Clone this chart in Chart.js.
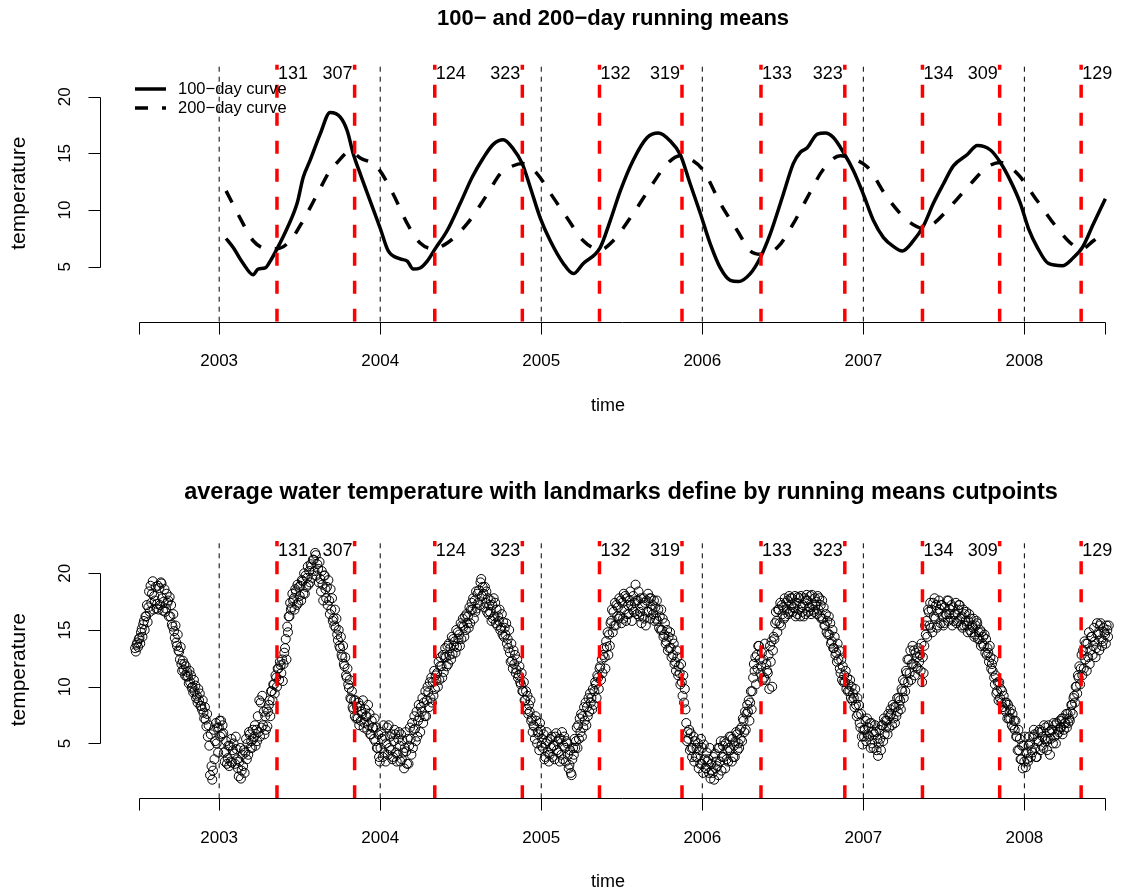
<!DOCTYPE html>
<html>
<head>
<meta charset="utf-8">
<title>Water temperature running means</title>
<script src="https://cdn.jsdelivr.net/npm/chart.js@4"></script>
<style>
  html, body { margin: 0; padding: 0; background: #fff; }
  .panel { position: absolute; left: 0; width: 1121px; height: 447px; }
  #topPanel { top: 0; }
  #bottomPanel { top: 447px; }
</style>
</head>
<body>
<div class="panel" id="topPanel"><canvas id="meansChart" width="1121" height="447"></canvas></div>
<div class="panel" id="bottomPanel"><canvas id="obsChart" width="1121" height="447"></canvas></div>
<script>
// ---- data -------------------------------------------------------------

// 100-day running mean (decimal year, degC)
const mean100Time = [
  2003.043, 2003.087, 2003.149, 2003.211, 2003.242, 2003.286, 2003.317, 2003.360, 2003.422, 2003.484,
  2003.522, 2003.565, 2003.627, 2003.689, 2003.752, 2003.795, 2003.832, 2003.876, 2003.938,
  2004.000, 2004.050, 2004.124, 2004.168, 2004.205, 2004.248, 2004.292, 2004.342, 2004.416, 2004.497,
  2004.571, 2004.640, 2004.702, 2004.764, 2004.826, 2004.882, 2004.932, 2004.994,
  2005.056, 2005.137, 2005.199, 2005.261, 2005.366, 2005.429, 2005.491, 2005.571, 2005.658, 2005.727,
  2005.801, 2005.863, 2005.925, 2005.988,
  2006.050, 2006.112, 2006.174, 2006.224, 2006.298, 2006.360, 2006.422, 2006.503, 2006.565, 2006.609,
  2006.652, 2006.714, 2006.764, 2006.814, 2006.876, 2006.938,
  2007.000, 2007.062, 2007.124, 2007.186, 2007.242, 2007.311, 2007.373, 2007.435, 2007.497, 2007.559,
  2007.646, 2007.708, 2007.789, 2007.851, 2007.913, 2007.975,
  2008.025, 2008.081, 2008.149, 2008.236, 2008.304, 2008.360, 2008.429, 2008.503
];
const mean100Temp = [
  7.5, 6.7, 5.3, 4.3, 4.8, 4.9, 5.5, 6.6, 8.4, 10.6, 12.9, 14.4, 16.7, 18.6, 18.2, 17.0, 15.0, 13.2, 10.8,
  8.4, 6.4, 5.7, 5.5, 4.8, 4.9, 5.5, 6.6, 8.2, 10.6, 12.9, 14.6, 15.8, 16.2, 15.4, 14.1, 12.0, 9.3,
  7.3, 5.3, 4.4, 5.3, 6.7, 9.1, 11.7, 14.4, 16.4, 16.8, 16.1, 14.9, 12.3, 9.7,
  7.0, 4.9, 3.8, 3.7, 4.4, 5.8, 7.9, 11.4, 14.1, 15.1, 15.5, 16.7, 16.8, 16.4, 15.1, 13.5,
  11.4, 9.1, 7.6, 6.8, 6.4, 7.3, 8.6, 10.6, 12.3, 13.9, 14.9, 15.7, 15.3, 14.2, 12.6, 10.6,
  8.4, 6.7, 5.3, 5.1, 5.8, 6.7, 8.8, 11.0
];

// 200-day running mean
const mean200Time = [
  2003.043, 2003.130, 2003.211, 2003.298, 2003.360, 2003.441, 2003.522, 2003.609, 2003.689, 2003.733,
  2003.814, 2003.876, 2003.981,
  2004.081, 2004.168, 2004.248, 2004.329, 2004.416, 2004.540, 2004.665, 2004.745, 2004.807, 2004.888, 2004.975,
  2005.056, 2005.161, 2005.261, 2005.366, 2005.447, 2005.571, 2005.677, 2005.783, 2005.863, 2005.925,
  2006.006, 2006.112, 2006.217, 2006.298, 2006.360, 2006.466, 2006.565, 2006.652, 2006.752, 2006.857, 2006.919,
  2007.025, 2007.149, 2007.273, 2007.373, 2007.435, 2007.559, 2007.665, 2007.770, 2007.851, 2007.957,
  2008.081, 2008.205, 2008.304, 2008.360, 2008.429, 2008.503
];
const mean200Temp = [
  11.7, 9.3, 7.3, 6.6, 6.6, 7.3, 9.1, 11.4, 13.5, 14.2, 15.2, 14.6, 13.8,
  11.4, 8.8, 7.1, 6.6, 7.1, 8.8, 11.4, 13.2, 13.8, 14.1, 13.2,
  11.5, 9.3, 7.3, 6.5, 7.3, 9.7, 12.0, 14.1, 14.8, 14.5,
  13.5, 10.6, 8.2, 6.4, 6.1, 6.7, 8.8, 11.1, 13.6, 14.8, 14.6,
  13.8, 11.1, 9.1, 8.4, 8.8, 10.6, 12.3, 13.8, 14.2, 13.2,
  10.8, 8.4, 6.9, 6.6, 7.3, 8.0
];

// measured water temperature, three readings per 5 days starting at obsStart
const obsStart = 2002.478;
const obsStepDays = 5 / 3;
const obsTemp = [
  13.4,13.1,13.7, 13.9,13.5,14.2, 14.3,13.8,14.8, 15.1,14.4,15.5, 15.8,15.0,16.2, 16.2,17.2,15.7, 17.0,18.4,16.6, 18.9,17.4,18.2, 19.3,16.8,18.0, 17.6,18.8,16.9,
  17.3,18.9,16.8, 18.7,17.2,19.2, 19.1,17.8,16.7, 17.5,18.6,16.6, 16.9,18.2,17.4, 17.6,16.2,17.9, 16.2,17.2,15.5, 15.3,16.4,14.9, 14.3,15.4,13.9, 13.6,14.6,13.2,
  13.1,12.4,13.5, 12.0,11.4,12.3, 11.5,12.0,11.0, 11.8,10.9,11.3, 10.9,10.3,11.4, 10.4,11.0,9.9, 10.0,9.5,10.6, 9.6,10.1,9.0, 9.2,8.6,9.8, 8.8,9.4,8.3,
  8.3,8.0,8.8, 7.7,7.2,8.2, 7.1,6.5,7.6, 5.6,6.6,4.8, 2.2,5.8,3.0, 1.8,2.6,6.2, 3.6,5.2,6.8, 5.0,6.4,4.2, 6.4,7.0,5.6, 7.0,5.8,6.6,
  5.9,4.2,3.4, 4.3,5.2,3.2, 3.7,4.8,3.0, 4.8,3.4,5.4, 3.3,4.4,5.0, 4.1,3.2,5.6, 4.5,3.6,2.8, 2.1,3.4,4.6, 1.9,2.6,4.0, 3.0,4.4,2.4,
  4.2,5.4,3.6, 5.0,4.0,6.0, 5.8,4.6,5.2, 4.6,6.2,5.4, 5.6,6.6,4.8, 6.2,5.2,7.4, 6.0,8.8,5.6, 8.6,6.4,9.2, 6.6,7.8,5.8, 7.4,6.2,8.0,
  6.5,7.8,8.4, 8.8,7.4,9.6, 9.6,8.8,10.2, 10.2,9.4,11.0, 10.8,10.0,11.6, 11.6,10.6,12.2, 11.9,11.2,12.4, 10.5,12.0,13.0, 13.4,14.2,12.4, 15.3,14.8,16.2,
  16.2,17.4,16.8, 17.0,18.2,17.6, 17.8,16.8,18.6, 18.4,17.2,19.0, 17.4,18.8,18.0, 18.9,17.6,19.4, 19.3,18.2,20.0, 18.2,19.8,18.8, 19.6,20.6,19.0, 20.2,19.2,20.8,
  20.6,19.6,21.2, 21.2,20.2,21.8, 21.6,19.8,20.8, 20.4,19.2,21.0, 19.5,18.4,20.2, 19.0,17.6,19.8, 19.8,18.6,17.8, 18.8,17.2,19.4, 17.6,16.4,18.6, 16.8,17.8,15.8,
  16.0,15.4,16.8, 15.2,16.0,14.6, 14.1,15.0,13.6, 13.4,14.4,12.8, 12.6,13.6,12.0, 11.8,12.6,11.0, 10.8,11.6,10.2, 9.9,10.6,9.0, 8.9,9.6,8.2, 8.0,8.8,7.4,
  8.8,7.2,8.2, 7.2,8.6,6.6, 8.3,7.0,7.8, 7.6,8.8,6.4, 6.8,8.0,7.4, 7.4,6.2,8.4, 6.6,7.6,5.8, 5.8,7.0,6.4, 6.4,5.4,7.2, 5.2,6.4,4.6,
  4.6,5.8,3.8, 3.4,4.6,6.0, 5.4,3.8,6.6, 4.2,5.6,3.4, 5.0,6.4,4.0, 6.6,4.6,5.6, 4.4,5.8,3.6, 3.8,5.2,6.2, 5.8,4.2,3.4, 4.0,5.4,6.0,
  4.8,3.4,5.8, 3.6,5.2,4.2, 2.8,4.6,6.0, 4.3,3.2,5.4, 3.2,4.8,6.4, 5.4,4.0,6.8, 4.6,6.2,7.4, 6.3,5.2,7.8, 5.6,7.0,8.4, 7.3,6.0,8.2,
  7.8,9.0,6.8, 8.6,7.4,9.6, 7.4,8.8,10.0, 9.5,8.2,10.4, 9.0,10.8,8.6, 10.4,9.2,11.4, 9.8,11.0,10.6, 11.2,10.0,12.2, 10.6,11.8,12.6, 11.8,10.8,12.8,
  11.3,12.6,13.4, 12.6,11.8,13.6, 12.0,13.8,12.8, 13.4,12.4,14.4, 12.9,14.2,13.6, 14.0,13.0,15.0, 13.5,14.8,14.2, 14.6,13.6,15.6, 14.2,15.4,16.0, 15.3,14.4,16.2,
  15.0,16.4,15.6, 16.2,15.2,17.0, 15.6,16.8,17.4, 16.8,17.8,16.0, 17.6,16.6,18.4, 16.9,18.2,17.4, 18.5,17.2,19.2, 19.5,18.0,18.8, 18.2,17.0,18.8, 17.4,18.4,16.6,
  17.8,16.4,17.2, 16.6,17.6,15.8, 17.2,16.0,17.8, 16.2,17.4,15.6, 16.8,15.4,16.2, 15.8,16.8,15.0, 15.2,16.4,14.6, 15.7,14.4,15.2, 14.6,15.6,13.8, 14.2,13.4,15.0,
  13.0,12.2,13.8, 12.3,11.6,13.2, 12.0,12.8,11.2, 11.5,12.4,10.8, 11.0,11.8,10.4, 10.2,11.2,9.6, 9.6,10.4,8.8, 8.8,9.6,8.0, 9.2,7.6,8.4, 7.8,8.8,7.0,
  7.2,6.0,6.6, 6.5,5.4,7.4, 7.0,5.0,6.0, 5.8,4.4,6.8, 6.2,4.8,5.4, 4.6,5.8,3.6, 3.8,5.0,6.0, 5.2,4.2,3.4, 4.0,5.4,4.6, 5.6,3.8,4.8,
  4.8,3.6,5.6, 5.9,4.4,5.2, 4.2,5.4,3.4, 5.4,4.0,6.0, 3.6,4.8,5.6, 4.6,3.4,5.2, 5.0,4.0,2.8, 3.1,4.4,2.4, 2.2,3.6,4.6, 4.0,5.4,4.6,
  5.2,6.4,4.6, 6.6,5.4,7.2, 6.0,7.6,5.6, 7.4,6.4,8.2, 7.0,8.6,6.6, 8.2,7.4,9.0, 7.8,9.4,8.6, 9.0,8.0,9.8, 8.4,9.6,10.4, 10.2,9.0,11.0,
  10.8,9.8,11.6, 11.8,10.6,12.4, 11.2,12.8,13.4, 12.6,11.6,14.0, 13.5,14.8,12.8, 14.6,13.6,15.6, 15.8,16.8,14.8, 16.6,15.4,17.4, 15.4,17.2,16.2, 17.0,16.0,17.8,
  16.2,17.6,15.6, 17.4,16.0,18.2, 16.8,18.0,15.8, 17.8,16.4,17.2, 16.4,17.6,18.4, 17.2,15.8,16.8, 18.0,16.6,17.4, 19.0,17.6,16.4, 17.6,18.4,16.2, 16.6,17.8,15.6,
  17.2,16.2,17.8, 16.0,17.4,15.4, 17.6,16.6,18.2, 16.6,17.8,16.0, 17.8,16.8,17.2, 16.4,17.6,15.8, 17.0,16.0,17.6, 15.8,16.8,15.2, 16.2,15.0,16.8, 15.0,16.0,14.4,
  14.6,15.6,13.8, 14.0,15.0,13.2, 14.4,13.4,14.8, 13.4,12.6,14.2, 12.8,13.8,12.0, 12.2,11.4,13.2, 12.6,11.0,11.8, 11.2,10.2,12.0, 10.4,9.2,11.0, 8.6,9.8,8.0,
  6.8,5.2,6.0, 5.4,6.2,4.4, 5.9,4.6,3.8, 4.6,5.6,3.4, 5.2,3.8,4.6, 3.8,5.0,2.8, 4.4,3.2,5.4, 3.2,4.6,2.4, 4.9,3.6,2.8, 2.8,4.2,3.4,
  3.6,2.4,4.6, 1.9,3.2,2.6, 2.4,3.8,1.8, 4.1,2.8,3.4, 3.0,4.6,2.2, 4.6,3.4,5.2, 2.6,3.8,4.8, 3.8,5.2,2.8, 5.0,3.6,4.4, 3.4,4.6,5.6,
  4.4,5.6,3.4, 5.4,3.8,4.8, 3.8,5.2,6.0, 5.8,4.4,5.0, 4.6,6.2,5.4, 6.4,5.2,7.2, 7.0,6.0,7.8, 6.2,7.6,8.4, 7.8,8.8,7.0, 8.6,9.6,8.0,
  9.6,10.8,12.0, 11.4,12.6,10.2, 12.8,11.6,13.6, 13.6,12.4,11.2, 11.8,13.0,10.6, 12.4,10.8,13.8, 10.6,12.0,11.4, 11.2,12.8,9.8, 13.6,12.2,14.0, 10.0,13.2,14.4,
  14.2,15.6,16.6, 15.8,14.8,16.8, 16.8,15.6,17.4, 15.4,17.2,16.4, 17.0,16.0,17.8, 16.2,17.4,16.8, 17.6,16.4,18.0, 16.6,17.8,17.2, 17.8,16.6,17.0, 16.9,18.0,16.2,
  17.4,16.4,17.9, 16.8,17.8,16.2, 18.0,17.0,16.6, 17.2,16.2,17.8, 16.4,17.6,18.1, 17.6,16.6,17.0, 17.0,18.0,16.4, 18.1,17.2,16.8, 16.6,17.8,17.2, 17.5,16.4,18.0,
  16.8,17.8,16.2, 17.2,16.0,17.6, 16.0,17.0,15.4, 15.4,16.4,14.8, 15.8,14.6,16.2, 14.6,15.6,13.8, 14.0,15.0,13.4, 13.4,14.4,12.8, 13.0,12.2,13.8, 12.4,13.2,11.6,
  11.2,12.4,10.6, 11.8,10.4,11.0, 10.4,11.4,9.8, 10.8,9.6,10.2, 9.6,10.6,9.0, 10.0,8.8,9.4, 9.0,8.2,9.8, 8.4,7.4,9.0, 7.6,8.4,6.8, 6.4,7.6,5.6,
  4.9,6.2,5.6, 6.2,7.0,5.2, 7.2,5.8,6.4, 5.6,6.8,4.6, 6.8,5.0,6.0, 4.6,5.8,6.6, 6.0,4.4,5.4, 3.9,5.0,6.2, 5.4,4.4,6.6, 6.6,5.2,7.2,
  5.8,7.0,6.4, 7.0,5.8,7.6, 6.4,7.4,8.0, 7.6,6.6,8.4, 7.2,8.2,6.8, 8.2,7.4,9.0, 7.8,9.0,8.4, 8.8,8.0,9.8, 9.6,10.6,9.0, 10.4,9.6,11.4,
  11.2,12.4,10.4, 12.4,11.2,13.2, 10.6,12.0,13.6, 12.0,13.2,11.0, 13.0,11.8,12.6, 11.6,13.4,12.2, 12.8,11.4,13.8, 10.4,12.6,11.2, 13.6,15.4,14.6, 15.8,14.4,16.8,
  16.6,15.4,17.4, 15.2,16.8,14.8, 17.4,16.2,17.8, 16.0,17.2,15.2, 15.4,16.6,17.6, 16.8,15.6,17.2, 17.2,16.2,15.4, 15.6,17.0,16.4, 16.4,17.6,15.8, 17.6,16.4,16.8,
  16.0,17.2,15.4, 17.0,15.8,16.4, 16.4,17.4,15.6, 15.8,16.8,17.2, 17.2,16.0,15.4, 16.2,15.2,16.8, 15.4,16.4,15.8, 16.6,15.4,14.8, 15.8,16.4,15.0, 16.0,14.8,15.4,
  15.2,16.0,14.4, 14.6,15.4,15.8, 15.6,14.2,14.8, 14.2,15.0,13.6, 14.8,13.8,14.4, 13.6,14.6,13.0, 14.2,12.8,13.4, 13.0,12.2,13.6, 12.6,11.6,12.0, 11.4,12.4,10.8,
  10.2,11.0,9.4, 9.6,10.4,8.8, 10.4,9.0,9.8, 8.6,9.6,8.2, 9.2,8.0,8.6, 7.8,8.6,7.2, 8.4,7.2,7.8, 7.2,8.0,6.6, 7.6,6.4,7.0, 6.2,7.0,5.6,
  5.6,4.4,6.2, 4.4,5.4,3.6, 3.6,4.8,2.8, 4.8,3.4,5.6, 2.9,4.2,3.6, 3.4,4.8,5.6, 5.0,3.8,4.4, 4.2,5.6,6.2, 5.8,4.6,3.8, 3.8,5.2,6.0,
  5.2,6.2,4.4, 6.0,4.8,5.6, 4.6,6.6,5.4, 6.4,5.2,4.4, 5.4,6.6,6.0, 4.0,5.4,6.2, 6.2,5.0,6.8, 5.6,6.6,5.0, 6.8,5.8,6.2, 6.0,7.0,6.4,
  6.4,7.2,5.8, 7.2,6.2,6.8, 6.8,7.6,6.4, 7.6,6.8,7.2, 7.0,7.8,8.4, 8.4,7.6,9.0, 9.2,8.6,10.0, 10.0,9.4,11.0, 10.8,11.8,10.2, 11.6,12.8,11.0,
  13.2,11.6,14.0, 12.4,13.8,11.4, 13.8,12.6,14.8, 12.0,13.2,14.4, 14.4,12.8,13.6, 15.2,14.0,12.6, 13.4,15.6,14.6, 14.8,13.2,15.4, 15.6,14.2,13.6, 14.0,15.2,14.8,
  14.6,13.8,15.4, 15.0,14.4,15.4
];

// landmark cutpoints: day of year where the two running means cross
const cutYears = [2003, 2004, 2005, 2006, 2007, 2008];
const cutStartDay = [131, 124, 132, 133, 134, 129];
const cutEndDay = [307, 323, 319, 323, 309, null];

// axes
const yearTicks = [2003, 2004, 2005, 2006, 2007, 2008];
const recordEnds = [2002.5, 2008.5];
const tempTicks = [5, 10, 15, 20];
const tempLim = [1, 22];
const xView = [2002.26, 2008.6];
const labelTemp = 22;

// ---- helpers ----------------------------------------------------------

const FONT = "'Liberation Sans', Arial, Helvetica, sans-serif";

function padRange(r) {
  const d = (r[1] - r[0]) * 0.04;
  return [r[0] - d, r[1] + d];
}
const yView = padRange(tempLim);

function decimalDate(year, day) {
  const leap = (year % 4 === 0 && year % 100 !== 0) || year % 400 === 0;
  return year + day / (leap ? 366 : 365);
}

function zipXY(xs, ys) {
  return xs.map((x, i) => ({ x, y: ys[i] }));
}

function vline(x, color, width, dash, order) {
  return {
    data: [{ x, y: yView[0] }, { x, y: yView[1] }],
    showLine: true,
    borderColor: color,
    borderWidth: width,
    borderDash: dash,
    borderCapStyle: 'butt',
    pointRadius: 0,
    order
  };
}

// year boundaries and cutpoint lines shared by both panels
function markerSets() {
  const sets = [];
  yearTicks.forEach(y => sets.push(vline(y, '#000', 1, [5, 5], 1)));
  cutYears.forEach((y, i) => {
    sets.push(vline(decimalDate(y, cutStartDay[i]), '#ff0000', 3.5, [13, 15], 0));
    if (cutEndDay[i] != null) sets.push(vline(decimalDate(y, cutEndDay[i]), '#ff0000', 3.5, [13, 15], 0));
  });
  return sets;
}

// base-graphics style axes, titles, cutpoint labels and legend
const basePlot = {
  id: 'basePlot',
  afterDraw(chart, args, opts) {
    const { ctx, chartArea: a, scales: { x, y } } = chart;
    const snap = v => Math.round(v) + 0.5;
    ctx.save();
    ctx.strokeStyle = '#000';
    ctx.fillStyle = '#000';
    ctx.lineWidth = 1;
    ctx.setLineDash([]);

    // left axis
    const left = snap(a.left);
    ctx.beginPath();
    ctx.moveTo(left, snap(y.getPixelForValue(tempTicks[0])));
    ctx.lineTo(left, snap(y.getPixelForValue(tempTicks[tempTicks.length - 1])));
    tempTicks.forEach(v => {
      const py = snap(y.getPixelForValue(v));
      ctx.moveTo(left, py);
      ctx.lineTo(left - 12, py);
    });
    // bottom axis
    const bottom = snap(a.bottom);
    const xt = [recordEnds[0], ...yearTicks, recordEnds[1]];
    ctx.moveTo(snap(x.getPixelForValue(xt[0])), bottom);
    ctx.lineTo(snap(x.getPixelForValue(xt[xt.length - 1])), bottom);
    xt.forEach(v => {
      const px = snap(x.getPixelForValue(v));
      ctx.moveTo(px, bottom);
      ctx.lineTo(px, bottom + 12);
    });
    ctx.stroke();

    // tick labels
    ctx.font = '17px ' + FONT;
    ctx.textAlign = 'center';
    ctx.textBaseline = 'middle';
    yearTicks.forEach(v => ctx.fillText(String(v), x.getPixelForValue(v), a.bottom + 40));
    tempTicks.forEach(v => {
      ctx.save();
      ctx.translate(a.left - 35, y.getPixelForValue(v));
      ctx.rotate(-Math.PI / 2);
      ctx.fillText(String(v), 0, 0);
      ctx.restore();
    });

    // axis titles
    ctx.font = '18px ' + FONT;
    ctx.fillText('time', 608, a.bottom + 84);
    ctx.font = '21px ' + FONT;
    ctx.save();
    ctx.translate(19, (a.top + a.bottom) / 2);
    ctx.rotate(-Math.PI / 2);
    ctx.fillText('temperature', 0, 0);
    ctx.restore();

    // main title
    ctx.font = 'bold ' + opts.titleSize + 'px ' + FONT;
    ctx.fillText(opts.title, opts.titleX, a.top - opts.titleGap);

    // cutpoint day labels
    ctx.font = '18px ' + FONT;
    const ly = y.getPixelForValue(labelTemp);
    cutYears.forEach((yr, i) => {
      ctx.textAlign = 'left';
      ctx.fillText(String(cutStartDay[i]), x.getPixelForValue(decimalDate(yr, cutStartDay[i])) + 1, ly);
      if (cutEndDay[i] != null) {
        ctx.textAlign = 'right';
        ctx.fillText(String(cutEndDay[i]), x.getPixelForValue(decimalDate(yr, cutEndDay[i])) - 2, ly);
      }
    });

    // legend, top-left, no box
    if (opts.legend) {
      ctx.font = '16.5px ' + FONT;
      ctx.textAlign = 'left';
      opts.legend.forEach((item, i) => {
        const ly2 = 89 + i * 19;
        ctx.beginPath();
        ctx.lineWidth = 3.5;
        ctx.setLineDash(item.dash);
        ctx.moveTo(135, ly2);
        ctx.lineTo(166, ly2);
        ctx.stroke();
        ctx.setLineDash([]);
        ctx.fillText(item.label, 178, ly2);
      });
    }
    ctx.restore();
  }
};

const baseOptions = (padding, plotOpts) => ({
  responsive: false,
  animation: false,
  events: [],
  layout: { padding, autoPadding: false },
  scales: {
    x: { type: 'linear', min: xView[0], max: xView[1], display: false },
    y: { type: 'linear', min: yView[0], max: yView[1], display: false }
  },
  plugins: {
    legend: { display: false },
    tooltip: { enabled: false },
    basePlot: plotOpts
  }
});

// ---- top panel: running means -----------------------------------------

new Chart(document.getElementById('meansChart'), {
  type: 'scatter',
  data: {
    datasets: [
      ...markerSets(),
      {
        label: '100-day curve',
        data: zipXY(mean100Time, mean100Temp),
        showLine: true,
        borderColor: '#000',
        borderWidth: 3.5,
        borderJoinStyle: 'round',
        cubicInterpolationMode: 'monotone',
        pointRadius: 0,
        order: 2
      },
      {
        label: '200-day curve',
        data: zipXY(mean200Time, mean200Temp),
        showLine: true,
        borderColor: '#000',
        borderWidth: 3.5,
        borderDash: [13, 14],
        borderJoinStyle: 'round',
        cubicInterpolationMode: 'monotone',
        pointRadius: 0,
        order: 2
      }
    ]
  },
  options: baseOptions({ left: 100, right: 0, top: 64.5, bottom: 125.3 }, {
    title: '100\u2212 and 200\u2212day running means',
    titleSize: 22,
    titleX: 613,
    titleGap: 46,
    legend: [
      { label: '100\u2212day curve', dash: [] },
      { label: '200\u2212day curve', dash: [13, 14] }
    ]
  }),
  plugins: [basePlot]
});

// ---- bottom panel: observations ---------------------------------------

const obsTime = obsTemp.map((_, i) => obsStart + i * obsStepDays / 365.25);

new Chart(document.getElementById('obsChart'), {
  type: 'scatter',
  data: {
    datasets: [
      ...markerSets(),
      {
        label: 'temperature',
        data: zipXY(obsTime, obsTemp),
        pointStyle: 'circle',
        pointRadius: 4.5,
        pointBorderWidth: 1,
        pointBorderColor: '#000',
        pointBackgroundColor: 'rgba(0,0,0,0)',
        order: 2
      }
    ]
  },
  options: baseOptions({ left: 100, right: 0, top: 94.1, bottom: 95.7 }, {
    title: 'average water temperature with landmarks define by running means cutpoints',
    titleSize: 23.5,
    titleX: 621,
    titleGap: 49,
    legend: null
  }),
  plugins: [basePlot]
});
</script>
</body>
</html>
